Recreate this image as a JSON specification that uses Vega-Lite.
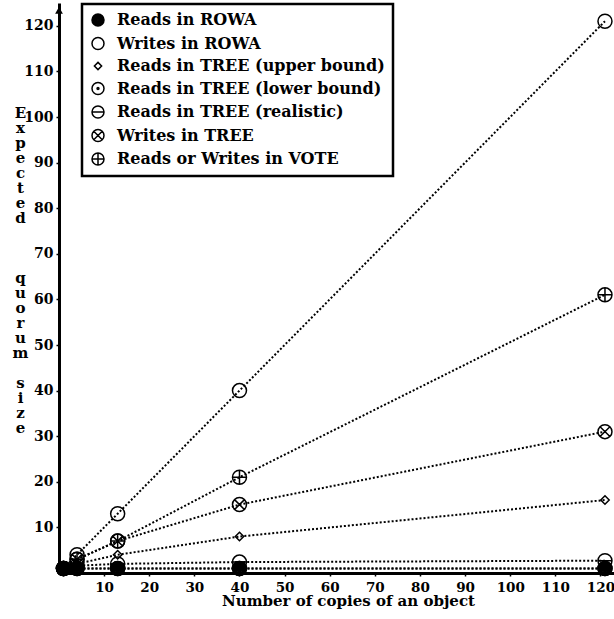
{
  "$schema": "https://vega.github.io/schema/vega-lite/v6.json",
  "width": 555,
  "height": 570,
  "autosize": {"type": "none"},
  "padding": {"left": 59, "top": 3, "right": 0, "bottom": 46},
  "background": "white",
  "config": {
    "view": {"stroke": null},
    "font": "DejaVu Serif",
    "legend": {"strokeWidth": 2.5},
    "axis": {
      "grid": false,
      "domainColor": "black",
      "domainWidth": 3,
      "tickColor": "black",
      "tickSize": 3,
      "tickWidth": 1.5,
      "labelFont": "DejaVu Serif",
      "labelFontWeight": "bold",
      "labelFontSize": 14,
      "labelColor": "black",
      "titleFont": "DejaVu Serif",
      "titleFontWeight": "bold",
      "titleFontSize": 15,
      "titleColor": "black"
    }
  },
  "data": {
    "values": [
      {"series": "Reads in ROWA", "n": 1, "q": 1},
      {"series": "Reads in ROWA", "n": 4, "q": 1},
      {"series": "Reads in ROWA", "n": 13, "q": 1},
      {"series": "Reads in ROWA", "n": 40, "q": 1},
      {"series": "Reads in ROWA", "n": 121, "q": 1},
      {"series": "Writes in ROWA", "n": 1, "q": 1},
      {"series": "Writes in ROWA", "n": 4, "q": 4},
      {"series": "Writes in ROWA", "n": 13, "q": 13},
      {"series": "Writes in ROWA", "n": 40, "q": 40},
      {"series": "Writes in ROWA", "n": 121, "q": 121},
      {"series": "Reads in TREE (upper bound)", "n": 1, "q": 1},
      {"series": "Reads in TREE (upper bound)", "n": 4, "q": 2},
      {"series": "Reads in TREE (upper bound)", "n": 13, "q": 4},
      {"series": "Reads in TREE (upper bound)", "n": 40, "q": 8},
      {"series": "Reads in TREE (upper bound)", "n": 121, "q": 16},
      {"series": "Reads in TREE (lower bound)", "n": 1, "q": 1},
      {"series": "Reads in TREE (lower bound)", "n": 4, "q": 1},
      {"series": "Reads in TREE (lower bound)", "n": 13, "q": 1},
      {"series": "Reads in TREE (lower bound)", "n": 40, "q": 1},
      {"series": "Reads in TREE (lower bound)", "n": 121, "q": 1},
      {"series": "Reads in TREE (realistic)", "n": 1, "q": 1},
      {"series": "Reads in TREE (realistic)", "n": 4, "q": 1.6},
      {"series": "Reads in TREE (realistic)", "n": 13, "q": 2},
      {"series": "Reads in TREE (realistic)", "n": 40, "q": 2.4},
      {"series": "Reads in TREE (realistic)", "n": 121, "q": 2.7},
      {"series": "Writes in TREE", "n": 1, "q": 1},
      {"series": "Writes in TREE", "n": 4, "q": 3},
      {"series": "Writes in TREE", "n": 13, "q": 7},
      {"series": "Writes in TREE", "n": 40, "q": 15},
      {"series": "Writes in TREE", "n": 121, "q": 31},
      {"series": "Reads or Writes in VOTE", "n": 1, "q": 1},
      {"series": "Reads or Writes in VOTE", "n": 4, "q": 3},
      {"series": "Reads or Writes in VOTE", "n": 13, "q": 7},
      {"series": "Reads or Writes in VOTE", "n": 40, "q": 21},
      {"series": "Reads or Writes in VOTE", "n": 121, "q": 61}
    ]
  },
  "encoding": {
    "x": {
      "field": "n",
      "type": "quantitative",
      "scale": {"domain": [0, 123], "nice": false, "zero": true},
      "axis": {
        "values": [10, 20, 30, 40, 50, 60, 70, 80, 90, 100, 110, 120],
        "title": "Number of copies of an object",
        "labelPadding": 4,
        "labelFontSize": 13.5,
        "titlePadding": 0,
        "titleX": 289
      }
    },
    "y": {
      "field": "q",
      "type": "quantitative",
      "scale": {"domain": [0, 125], "nice": false, "zero": true},
      "axis": {
        "values": [10, 20, 30, 40, 50, 60, 70, 80, 90, 100, 110, 120],
        "title": ["E", "x", "p", "e", "c", "t", "e", "d", "\u2800", "\u2800", "\u2800", "q", "u", "o", "r", "u", "m", "\u2800", "s", "i", "z", "e"],
        "titleAngle": 0,
        "titleAlign": "center",
        "titleBaseline": "top",
        "titleLineHeight": 15,
        "titleX": -39,
        "titleY": 102,
        "labelPadding": 3
      }
    }
  },
  "layer": [
    {
      "mark": {"type": "line", "stroke": "black", "strokeWidth": 2, "strokeDash": [2, 2]},
      "encoding": {"detail": {"field": "series"}}
    },
    {
      "mark": {"type": "point", "filled": false, "color": "black", "stroke": "black", "strokeWidth": 1.5, "size": 196, "opacity": 1},
      "encoding": {
        "shape": {
          "field": "series",
          "type": "nominal",
          "scale": {
            "domain": ["Reads in ROWA", "Writes in ROWA", "Reads in TREE (upper bound)", "Reads in TREE (lower bound)", "Reads in TREE (realistic)", "Writes in TREE", "Reads or Writes in VOTE"],
            "range": [
              "M-1,0A1,1 0 1,1 1,0A1,1 0 1,1 -1,0ZM-0.82,0A0.82,0.82 0 1,1 0.82,0A0.82,0.82 0 1,1 -0.82,0ZM-0.64,0A0.64,0.64 0 1,1 0.64,0A0.64,0.64 0 1,1 -0.64,0ZM-0.46,0A0.46,0.46 0 1,1 0.46,0A0.46,0.46 0 1,1 -0.46,0ZM-0.28,0A0.28,0.28 0 1,1 0.28,0A0.28,0.28 0 1,1 -0.28,0ZM-0.1,0A0.1,0.1 0 1,1 0.1,0A0.1,0.1 0 1,1 -0.1,0Z",
              "circle",
              "M0,-0.6L0.6,0L0,0.6L-0.6,0Z",
              "M-1,0A1,1 0 1,1 1,0A1,1 0 1,1 -1,0ZM-0.15,0A0.15,0.15 0 1,1 0.15,0A0.15,0.15 0 1,1 -0.15,0Z",
              "M-1,0A1,1 0 1,1 1,0A1,1 0 1,1 -1,0ZM-1,0L1,0",
              "M-1,0A1,1 0 1,1 1,0A1,1 0 1,1 -1,0ZM-0.707,-0.707L0.707,0.707M-0.707,0.707L0.707,-0.707",
              "M-1,0A1,1 0 1,1 1,0A1,1 0 1,1 -1,0ZM-1,0L1,0M0,-1L0,1"
            ]
          },
          "legend": {
            "orient": "none",
            "legendX": 23,
            "legendY": 1,
            "title": null,
            "labelFont": "DejaVu Serif",
            "labelFontWeight": "bold",
            "labelFontSize": 16,
            "labelColor": "black",
            "labelLimit": 400,
            "symbolSize": 144,
            "symbolStrokeColor": "black",
            "symbolStrokeWidth": 1.5,
            "symbolFillColor": "transparent",
            "padding": 8,
            "rowPadding": 5.5,
            "labelOffset": 11,
            "strokeColor": "black",
            "fillColor": "white"
          }
        }
      }
    },
    {
      "data": {"values": [{"n": 0, "q": 123.4}]},
      "mark": {"type": "point", "shape": "triangle-up", "filled": true, "color": "black", "size": 60, "opacity": 1},
      "encoding": {}
    }
  ]
}
